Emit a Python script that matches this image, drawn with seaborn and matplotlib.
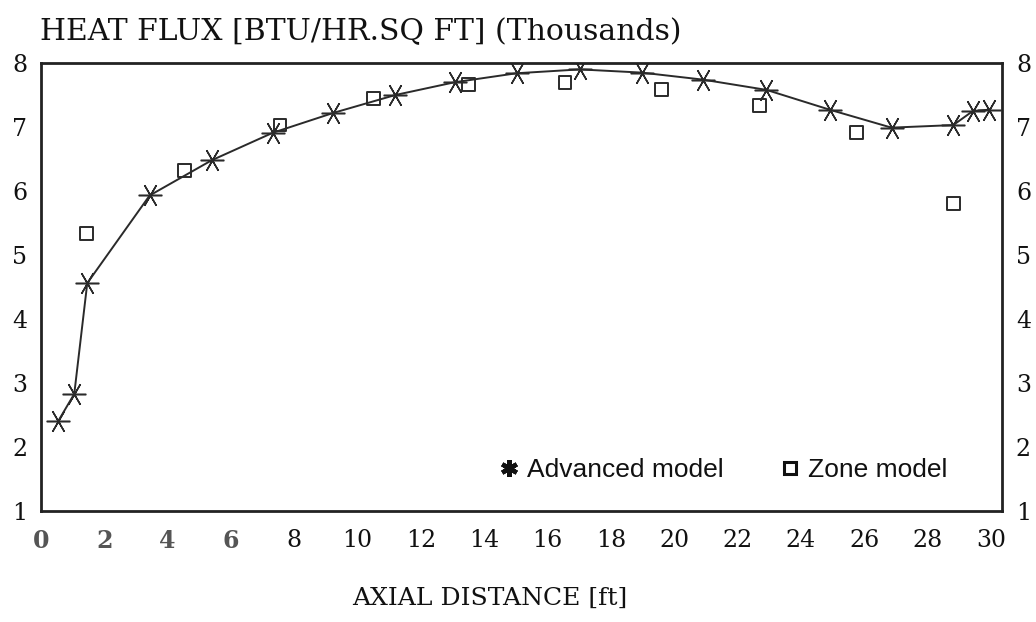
import matplotlib
matplotlib.use("Agg")
import matplotlib.pyplot as plt
from matplotlib.lines import Line2D
import pandas as pd
import seaborn as sns

# Advanced model: heat flux along the furnace (thousands of BTU/hr.sq ft)
adv_x = [0.55, 1.05, 1.46, 3.43, 5.39, 7.32, 9.23, 11.19, 13.07, 15.02,
         17.02, 18.97, 20.91, 22.91, 24.91, 26.86, 28.81, 29.43, 29.93]
adv_y = [2.41, 2.83, 4.56, 5.93, 6.48, 6.91, 7.22, 7.50, 7.70, 7.84,
         7.90, 7.85, 7.74, 7.58, 7.27, 6.99, 7.03, 7.25, 7.27]

# Zone model results
zone_x = [1.44, 4.52, 7.55, 10.51, 13.49, 16.55, 19.60, 22.68, 25.76, 28.83]
zone_y = [5.33, 6.32, 7.03, 7.45, 7.67, 7.69, 7.58, 7.33, 6.91, 5.80]

x_ticks = [0, 2, 4, 6, 8, 10, 12, 14, 16, 18, 20, 22, 24, 26, 28, 30]
y_ticks = [1, 2, 3, 4, 5, 6, 7, 8]

title_text = "HEAT FLUX [BTU/HR.SQ FT] (Thousands)"
xlabel_text = "AXIAL DISTANCE [ft]"
legend_labels = ["Advanced model", "Zone model"]

sns.set_theme(style="white")
plt.rcParams["font.family"] = ["DejaVu Serif"]

adv = pd.DataFrame({"x": adv_x, "y": adv_y})
zone = pd.DataFrame({"x": zone_x, "y": zone_y})

fig = plt.figure(figsize=(10.36, 6.22), dpi=100)
ax = fig.add_axes([0.0396, 0.1785, 0.9276, 0.7202])

ink = "#2a2a2a"
asterisk = (6, 2, 90)

sns.lineplot(data=adv, x="x", y="y", ax=ax, color=ink, linewidth=1.4,
             marker=asterisk, markersize=17, markeredgewidth=1.1,
             markeredgecolor=ink, sort=False)
sns.scatterplot(data=zone, x="x", y="y", ax=ax, marker="s", s=85,
                facecolor="none", edgecolor=ink, linewidth=1.4, zorder=3)

ax.set_xlim(0, 30.35)
ax.set_ylim(1, 8)
ax.set_xticks(x_ticks)
ax.set_yticks(y_ticks)
ax.set_xticklabels([str(t) for t in x_ticks])
ax.set_yticklabels([str(t) for t in y_ticks])
ax.tick_params(axis="both", length=0, labelsize=17, colors="#111111")
ax.tick_params(axis="x", pad=13)
ax.tick_params(axis="y", pad=10, labelright=True)
for lab in ax.get_xticklabels()[:4]:
    lab.set_color("#555555")
    lab.set_fontweight("bold")

for side in ["left", "right", "top", "bottom"]:
    ax.spines[side].set_color("#222222")
    ax.spines[side].set_linewidth(2.0)

ax.set_xlabel(xlabel_text, fontsize=18, color="#111111")
ax.set_ylabel("")
ax.xaxis.set_label_coords(0.467, -0.17)

fig.text(40 / 1036, 1 - 32 / 622, title_text, fontsize=21.5,
         color="#111111", va="center", ha="left")

handles = [
    Line2D([], [], linestyle="none", marker=(6, 2, 0), markersize=12,
           markeredgewidth=3.2, color="#111111"),
    Line2D([], [], linestyle="none", marker="s", markersize=8,
           markeredgewidth=2.2, markerfacecolor="none",
           markeredgecolor="#111111"),
]
leg = ax.legend(handles, legend_labels, ncol=2, frameon=False,
                loc="lower left", bbox_to_anchor=(0.462, 0.035),
                handlelength=0.8, handletextpad=0.3, columnspacing=2.1,
                borderpad=0, prop={"family": "Liberation Sans", "size": 19})
for t in leg.get_texts():
    t.set_color("#111111")

fig.savefig("out.png", dpi=100, facecolor="white")
